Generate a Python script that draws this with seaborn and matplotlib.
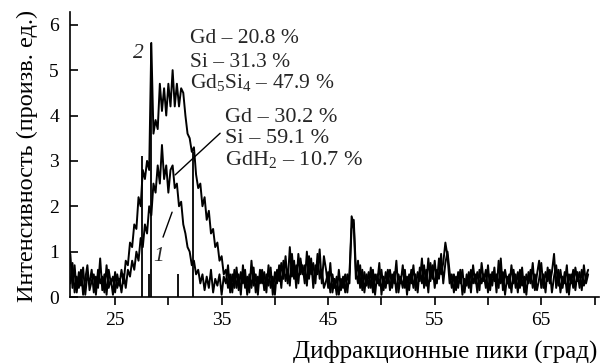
import numpy as np
import pandas as pd
import matplotlib
matplotlib.use("Agg")
import matplotlib.pyplot as plt
import seaborn as sns

# Diffraction angle grid (2θ, deg), 0.2° step
two_theta = np.round(np.arange(20.8, 69.41, 0.2), 2)

# Curve 2: Gd - 20.8 %, Si - 31.3 %, Gd5Si4 - 47.9 %
curve2 = [
    0.95, 0.2, 0.7, 0.1, 0.55, 0.25, 0.65, 0.05, 0.5, 0.3,
    0.6, 0.1, 0.45, 0.2, 0.85, 0.15, 0.5, 0.05, 0.6, 0.3,
    0.45, 0.1, 0.5, 0.25, 0.6, 0.3, 0.8, 0.7, 1.2, 1.1,
    1.6, 1.5, 2.2, 2.0, 2.8, 2.6, 3.0, 2.8, 5.6, 3.6,
    3.9, 3.7, 4.7, 4.1, 4.6, 4.0, 4.7, 4.2, 5.0, 4.2,
    4.7, 4.2, 4.6, 4.5, 4.0, 3.6, 3.5, 3.2, 3.3, 2.7,
    2.4, 2.5, 2.0, 2.2, 1.7, 1.9, 1.4, 1.5, 1.1, 1.2,
    0.8, 0.9, 0.5, 0.6, 0.2, 0.5, 0.1, 0.6, 0.2, 0.5,
    0.05, 0.7, 0.2, 0.45, 0.1, 0.8, 0.25, 0.5, 0.05, 0.6,
    0.3, 0.55, 0.1, 0.7, 0.2, 0.45, 0.05, 0.6, 0.35, 0.75,
    0.4, 0.9, 0.3, 1.1, 0.45, 0.8, 0.2, 0.95, 0.5, 0.7,
    0.3, 1.0, 0.4, 0.85, 0.2, 0.7, 0.5, 1.05, 0.3, 0.9,
    0.6, 0.2, 0.75, 0.1, 0.4, 0.05, 0.6, 0.15, 0.45, 0.1,
    0.5, 0.3, 1.78, 1.6, 0.4, 0.8, 0.2, 0.6, 0.1, 0.5,
    0.2, 0.65, 0.1, 0.5, 0.3, 0.75, 0.05, 0.45, 0.2, 0.6,
    0.15, 0.5, 0.3, 0.8, 0.1, 0.45, 0.2, 0.6, 0.05, 0.5,
    0.3, 0.7, 0.15, 0.55, 0.35, 0.85, 0.2, 0.6, 0.1, 0.75,
    0.4, 0.8, 0.3, 0.85, 0.5, 0.75, 1.2, 0.9, 0.3, 0.5,
    0.1, 0.45, 0.2, 0.6, 0.05, 0.4, 0.25, 0.55, 0.1, 0.7,
    0.3, 0.55, 0.15, 0.75, 0.35, 0.6, 0.1, 0.5, 0.25, 0.65,
    0.1, 0.8, 0.3, 0.55, 0.05, 0.45, 0.2, 0.7, 0.3, 0.5,
    0.1, 0.6, 0.25, 0.45, 0.05, 0.55, 0.3, 0.75, 0.15, 0.5,
    0.8, 0.2, 0.5, 0.1, 0.65, 0.3, 0.55, 0.95, 0.2, 0.6,
    0.1, 0.45, 0.3, 0.7, 0.05, 0.5, 0.2, 0.65, 0.35, 0.55,
    0.15, 0.7, 0.3, 0.5,
]

# Curve 1: Gd - 30.2 %, Si - 59.1 %, GdH2 - 10.7 %
curve1 = [
    0.3, 0.75, 0.1, 0.45, 0.2, 0.6, 0.05, 0.4, 0.7, 0.15,
    0.35, 0.5, 0.05, 0.6, 0.3, 0.45, 0.1, 0.7, 0.2, 0.4,
    0.05, 0.55, 0.2, 0.4, 0.1, 0.5, 0.2, 0.6, 0.45, 0.8,
    0.6, 1.0, 0.8, 1.3, 1.1, 1.6, 1.4, 2.0, 1.8, 2.5,
    2.3, 2.9, 2.5, 3.35, 2.6, 2.9, 2.3, 2.8, 2.9, 2.4,
    2.5, 2.0, 2.1, 1.6, 1.4, 1.1, 1.0, 0.7, 0.8, 0.5,
    0.6, 0.3, 0.5, 0.15, 0.45, 0.2, 0.6, 0.1, 0.4, 0.25,
    0.5, 0.05, 0.45, 0.3, 0.7, 0.1, 0.5, 0.2, 0.65, 0.15,
    0.55, 0.3, 0.6, 0.05, 0.5, 0.2, 0.65, 0.1, 0.45, 0.3,
    0.6, 0.15, 0.5, 0.25, 0.65, 0.05, 0.55, 0.3, 0.7, 0.2,
    0.8, 0.35, 0.6, 0.25, 0.95, 0.4, 0.7, 0.3, 0.85, 0.5,
    0.7, 0.25, 0.9, 0.5, 0.75, 0.3, 0.95, 0.4, 0.6, 0.2,
    0.35, 0.55, 0.1, 0.5, 0.2, 0.45, 0.05, 0.4, 0.2, 0.5,
    0.1, 0.55, 1.5, 1.7, 0.6, 0.3, 0.7, 0.15, 0.55, 0.25,
    0.55, 0.2, 0.6, 0.05, 0.5, 0.25, 0.6, 0.15, 0.55, 0.3,
    0.6, 0.2, 0.55, 0.1, 0.5, 0.3, 0.7, 0.2, 0.45, 0.15,
    0.6, 0.2, 0.5, 0.1, 0.65, 0.3, 0.7, 0.25, 0.85, 0.35,
    0.7, 0.2, 0.6, 0.4, 0.95, 0.3, 0.75, 1.0, 0.55, 0.2,
    0.5, 0.15, 0.55, 0.3, 0.6, 0.1, 0.5, 0.2, 0.6, 0.3,
    0.5, 0.1, 0.6, 0.3, 0.5, 0.2, 0.7, 0.15, 0.55, 0.35,
    0.5, 0.2, 0.85, 0.15, 0.6, 0.3, 0.5, 0.1, 0.6, 0.2,
    0.55, 0.2, 0.65, 0.1, 0.5, 0.3, 0.6, 0.2, 0.5, 0.15,
    0.4, 0.75, 0.2, 0.55, 0.35, 0.6, 0.1, 0.45, 0.7, 0.25,
    0.6, 0.2, 0.55, 0.1, 0.5, 0.3, 0.6, 0.15, 0.55, 0.2,
    0.6, 0.25, 0.45, 0.6,
]

# Sharp single-channel lines near the main peak
stick_x = [27.5, 28.2, 28.4, 30.9, 32.35]
stick_h = [3.1, 0.5, 5.6, 0.5, 3.2]

# Axis ticks
x_ticks = [25, 30, 35, 40, 45, 50, 55, 60, 65, 70]
x_tick_labels = ["25", "", "35", "", "45", "", "55", "", "65", ""]
y_ticks = [0, 1, 2, 3, 4, 5, 6]

# Composition labels
label2 = ["Gd – 20.8 %", "Si – 31.3 %", "Gd$_5$Si$_4$ – 47.9 %"]
label1 = ["Gd – 30.2 %", "Si – 59.1 %", "GdH$_2$ – 10.7 %"]

df = pd.DataFrame({
    "angle": np.concatenate([two_theta, two_theta]),
    "intensity": np.concatenate([curve1, curve2]),
    "curve": ["1"] * len(two_theta) + ["2"] * len(two_theta),
})

sns.set_theme(style="ticks")
plt.rcParams["font.family"] = ["Liberation Serif", "DejaVu Serif"]
plt.rcParams["mathtext.fontset"] = "custom"
plt.rcParams["mathtext.rm"] = "Liberation Serif"
plt.rcParams["mathtext.it"] = "Liberation Serif:italic"

fig = plt.figure(figsize=(6.0, 3.63), dpi=100)
ax = fig.add_axes([0.1167, 0.1818, 0.8813, 0.785])

sns.lineplot(data=df, x="angle", y="intensity", units="curve", estimator=None,
             sort=False, color="black", linewidth=1.4, ax=ax, legend=False)
ax.vlines(stick_x, 0, stick_h, color="black", linewidth=1.3)

ax.set_xlim(20.77, 70.4)
ax.set_ylim(0, 6.28)
ax.set_xticks(x_ticks)
ax.set_xticklabels(x_tick_labels)
ax.set_yticks(y_ticks)
ax.tick_params(axis="x", direction="out", length=6, width=1.2, labelsize=14,
               pad=5, color="black", labelcolor="black")
ax.tick_params(axis="y", direction="in", length=6, width=1.2, labelsize=14,
               pad=8, color="black", labelcolor="black")
for side in ("top", "right"):
    ax.spines[side].set_visible(False)
for side in ("left", "bottom"):
    ax.spines[side].set_linewidth(1.2)
    ax.spines[side].set_color("black")

ax.set_xlabel("Дифракционные пики (град)", fontsize=18, color="black")
ax.xaxis.label.set_ha("right")
ax.xaxis.label.set_va("center")
ax.xaxis.set_label_coords(0.998, -0.19)
ax.set_ylabel("Интенсивность (произв. ед.)", fontsize=17.5, color="black")
ax.yaxis.label.set_va("center")
ax.yaxis.set_label_coords(-0.081, 0.495)

# Curve numbers with leader
ax.text(27.2, 5.37, "2", fontsize=15.5, style="italic", ha="center", va="center")
ax.text(29.1, 0.9, "1", fontsize=15.5, style="italic", ha="center", va="center")
ax.plot([29.5, 30.35], [1.32, 1.87], color="black", linewidth=1.0)

# Composition blocks
for txt, yb in zip(label2, [5.59, 5.07, 4.6]):
    ax.text(32.04, yb, txt, fontsize=15.5, ha="left", va="baseline")
for txt, yb in zip(label1, [3.85, 3.39, 2.92]):
    ax.text(35.33, yb, txt, fontsize=16, ha="left", va="baseline")
ax.plot([30.63, 34.86], [2.69, 3.61], color="black", linewidth=1.0)

fig.savefig("out.png", dpi=100, facecolor="white")
